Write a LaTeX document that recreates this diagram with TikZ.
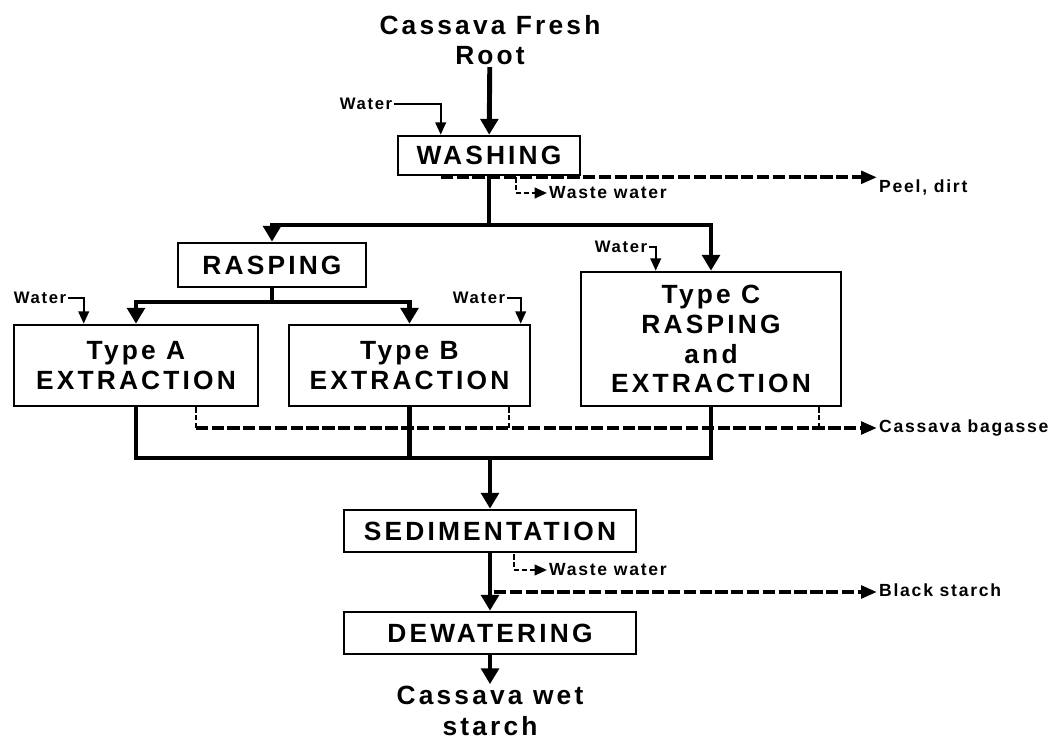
\documentclass[tikz,border=0pt]{standalone}
\usepackage{fontspec}
\setmainfont{Liberation Sans}
\newfontfamily\boxfont{Liberation Sans}[LetterSpace=12]
\newfontfamily\labelfont{Liberation Sans}[LetterSpace=10]
\usetikzlibrary{arrows.meta,calc}

\begin{document}
\begin{tikzpicture}[
  x=0.02cm, y=-0.02cm,
  box/.style={draw, line width=1.5pt, inner sep=0pt, align=center,
    font=\boxfont\bfseries\fontsize{15}{17}\selectfont},
  title/.style={inner sep=1pt, align=center, font=\boxfont\bfseries\fontsize{15}{17.5}\selectfont},
  outlabel/.style={inner sep=1pt, font=\labelfont\bfseries\fontsize{10}{12}\selectfont},
  water/.style={inner sep=1pt, font=\labelfont\bfseries\fontsize{9.5}{11}\selectfont},
  flow/.style={line width=2.8pt},
  arrow/.style={-{Triangle[length=9pt,width=10pt]}},
  feed/.style={line width=1.2pt, -{Triangle[length=7pt,width=6pt]}},
  waste/.style={line width=2.2pt, dash pattern=on 7pt off 2pt, -{Triangle[length=9pt,width=7pt]}},
  drop/.style={line width=1.3pt, dash pattern=on 3pt off 1.5pt},
  dropend/.style={drop, -{Triangle[length=7pt,width=6pt]}}
]
\useasboundingbox (0,0) rectangle (1061,742);

% process boxes
\node[box, minimum width=3.64cm, minimum height=0.78cm] (washing) at (489,155.5) {WASHING};
\node[box, minimum width=3.76cm, minimum height=0.88cm] (rasping) at (272,265) {RASPING};
\node[box, minimum width=4.88cm, minimum height=1.62cm] (typeA) at (136,365.5) {Type A\\EXTRACTION};
\node[box, minimum width=4.82cm, minimum height=1.62cm] (typeB) at (409.5,365.5) {Type B\\EXTRACTION};
\node[box, minimum width=5.2cm, minimum height=2.68cm] (typeC) at (711,339) {Type C\\RASPING\\and\\EXTRACTION};
\node[box, minimum width=5.84cm, minimum height=0.84cm] (sed) at (490,531) {SEDIMENTATION};
\node[box, minimum width=5.84cm, minimum height=0.84cm] (dew) at (490,633) {DEWATERING};

% in and out
\node[title] (root) at (490,40) {Cassava Fresh\\Root};
\node[title] (wet) at (490,711) {Cassava wet\\starch};
\node[water] (wW) at (366,104) {Water};
\node[water] (wA) at (40,298) {Water};
\node[water] (wB) at (479,298) {Water};
\node[water] (wC) at (621,247) {Water};
\node[outlabel, anchor=west] (peel) at (877,187) {Peel, dirt};
\node[outlabel, anchor=west] (ww1) at (547,193) {Waste water};
\node[outlabel, anchor=west] (bagasse) at (877,428) {Cassava bagasse};
\node[outlabel, anchor=west] (ww2) at (547,570) {Waste water};
\node[outlabel, anchor=west] (black) at (877,590) {Black starch};

\coordinate (inW) at ($(washing.north west)+(44,0)$);
\coordinate (inA) at ($(typeA.north west)+(71,0)$);
\coordinate (inB) at ($(typeB.north west)+(233,0)$);
\coordinate (inC) at ($(typeC.north west)+(76,0)$);
\coordinate (peelout) at ($(washing.south west)+(44,1)$);
\coordinate (wwout1) at ($(washing.south west)+(119,1)$);
\coordinate (wwout2) at ($(sed.south west)+(171,1)$);
\coordinate (outA) at ($(typeA.south west)+(183,0)$);
\coordinate (outB) at ($(typeB.south west)+(221,0)$);
\coordinate (outC) at ($(typeC.south west)+(239,0)$);
\coordinate (split) at (489,225);
\coordinate (fork) at (272,302);
\coordinate (merge) at (490,458);

% main flow
\draw[flow, arrow] (root) -- (washing);
\draw[flow] (washing.south) -- (split);
\draw[flow, arrow] (split) -| (rasping.north);
\draw[flow, arrow] (split) -| (typeC.north);
\draw[flow] (rasping.south) -- (fork);
\draw[flow, arrow] (fork) -| (typeA.north);
\draw[flow, arrow] (fork) -| (typeB.north);
\draw[flow] (typeA.south) |- (merge) -| (typeC.south);
\draw[flow] (typeB.south) -- (typeB.south |- merge);
\draw[flow, arrow] (merge) -- (sed.north);
\draw[flow, arrow] (sed) -- (dew);
\draw[flow, arrow] (dew) -- (wet);

% water
\draw[feed] (wW.east) -| (inW);
\draw[feed] (wA.east) -| (inA);
\draw[feed] (wB.east) -| (inB);
\draw[feed] (wC.east) -| (inC);

% by-products
\draw[waste] (peelout) -- (peelout -| peel.west);
\draw[drop] (wwout1) |- ($(ww1.west)+(-14,0)$);
\draw[dropend] ($(ww1.west)+(-14,0)$) -- (ww1.west);
\draw[drop] (wwout2) |- ($(ww2.west)+(-14,0)$);
\draw[dropend] ($(ww2.west)+(-14,0)$) -- (ww2.west);
\draw[drop] (outA) -- (outA |- bagasse.west);
\draw[drop] (outB) -- (outB |- bagasse.west);
\draw[drop] (outC) -- (outC |- bagasse.west);
\draw[waste] (outA |- bagasse.west) -- (bagasse.west);
\draw[waste] ($(sed.south |- black.west)+(4,2)$) -- ($(black.west)+(0,2)$);

\end{tikzpicture}
\end{document}
